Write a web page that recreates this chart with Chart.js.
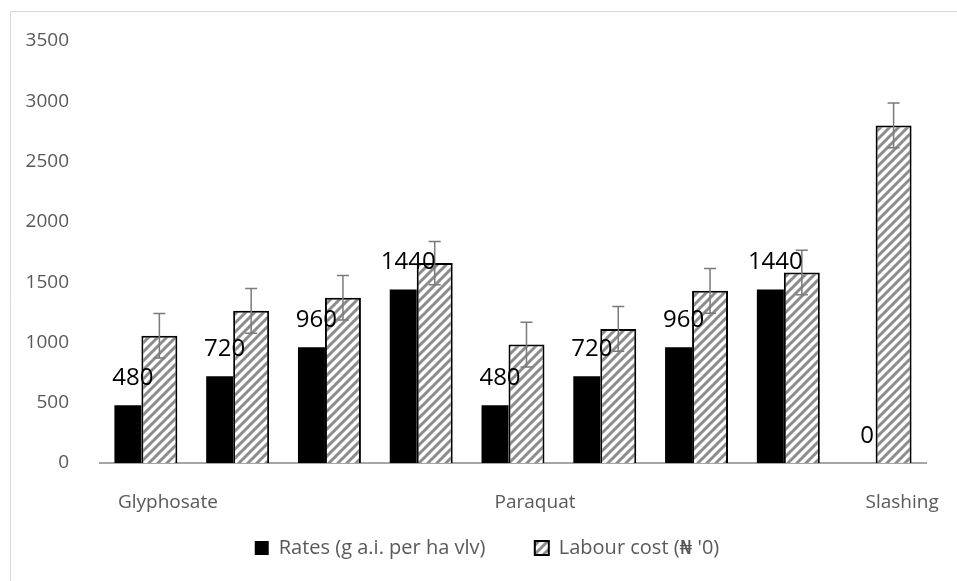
<!DOCTYPE html>
<html>
<head>
<meta charset="utf-8">
<script src="https://cdn.jsdelivr.net/npm/chart.js@4"></script>
<style>
  html, body { margin: 0; padding: 0; background: #fff; }
  #wrap { width: 957px; height: 581px; position: relative; }
</style>
</head>
<body>
<div id="wrap"><canvas id="canvas" width="957" height="581"></canvas></div>
<script>
// chart data
const categories = ['Glyphosate', '', '', '', 'Paraquat', '', '', '', 'Slashing'];
const rates = [480, 720, 960, 1440, 480, 720, 960, 1440, 0];
const labourCost = [1055, 1262, 1370, 1658, 982, 1112, 1428, 1580, 2800];
const labourErr = [185, 185, 185, 180, 185, 185, 185, 185, 185];
const yTicks = [0, 500, 1000, 1500, 2000, 2500, 3000, 3500];

const font = "'Open Sans', 'DejaVu Sans', sans-serif";

/* hatch pattern for labour cost bars */
function makeHatch() {
  const s = 9;
  const p = document.createElement('canvas');
  p.width = s; p.height = s;
  const c = p.getContext('2d');
  c.fillStyle = '#ffffff';
  c.fillRect(0, 0, s, s);
  c.strokeStyle = '#8c8c8c';
  c.lineWidth = 3;
  c.beginPath();
  c.moveTo(0, s); c.lineTo(s, 0);
  c.moveTo(-3, 3); c.lineTo(3, -3);
  c.moveTo(s - 3, s + 3); c.lineTo(s + 3, s - 3);
  c.stroke();
  return c.createPattern(p, 'repeat');
}
const hatch = makeHatch();

/* light frame round the chart */
const frame = {
  id: 'frame',
  beforeDraw(chart) {
    const ctx = chart.ctx;
    ctx.save();
    ctx.strokeStyle = '#d9d9d9';
    ctx.lineWidth = 1;
    ctx.beginPath();
    ctx.moveTo(10.5, 581);
    ctx.lineTo(10.5, 11.5);
    ctx.lineTo(957, 11.5);
    ctx.stroke();
    ctx.restore();
  }
};

/* error bars on labour cost + value labels on rates */
const extras = {
  id: 'extras',
  afterDatasetsDraw(chart) {
    const ctx = chart.ctx;
    const y = chart.scales.y;
    const metaL = chart.getDatasetMeta(1);
    ctx.save();
    ctx.strokeStyle = '#7a7a7a';
    ctx.lineWidth = 1.5;
    metaL.data.forEach(function(bar, i) {
      const top = y.getPixelForValue(labourCost[i] + labourErr[i]);
      const bot = y.getPixelForValue(labourCost[i] - labourErr[i]);
      ctx.beginPath();
      ctx.moveTo(bar.x, top); ctx.lineTo(bar.x, bot);
      ctx.moveTo(bar.x - 6, top); ctx.lineTo(bar.x + 6, top);
      ctx.moveTo(bar.x - 6, bot); ctx.lineTo(bar.x + 6, bot);
      ctx.stroke();
    });
    const metaR = chart.getDatasetMeta(0);
    ctx.fillStyle = '#000';
    ctx.font = '24px ' + font;
    ctx.textAlign = 'center';
    ctx.textBaseline = 'middle';
    metaR.data.forEach(function(bar, i) {
      ctx.fillText(String(rates[i]), bar.x + 5, bar.y - 27);
    });
    ctx.restore();
  }
};

const ctx = document.getElementById('canvas');
new Chart(ctx, {
  type: 'bar',
  data: {
    labels: categories,
    datasets: [{
      label: 'Rates (g a.i. per ha vlv)',
      data: rates,
      backgroundColor: '#000000',
      borderWidth: 0,
      categoryPercentage: 0.784,
      barPercentage: 0.75
    },
    {
      label: "Labour cost (\u20A6 '0)",
      data: labourCost,
      backgroundColor: hatch,
      borderColor: '#000000',
      borderWidth: 2,
      categoryPercentage: 0.588,
      barPercentage: 1.333
    }]
  },
  options: {
    responsive: false,
    animation: false,
    layout: { padding: { top: 41, right: 0, bottom: 13, left: 17 } },
    plugins: {
      legend: {
        position: 'bottom',
        labels: {
          boxWidth: 14,
          boxHeight: 14,
          padding: 13,
          color: '#595959',
          font: { family: font, size: 20 },
          // wider gap between the two entries
          generateLabels: function(chart) {
            const items = Chart.defaults.plugins.legend.labels.generateLabels(chart);
            items[0].text = items[0].text + '       ';
            return items;
          }
        }
      },
      tooltip: { enabled: false }
    },
    scales: {
      x: {
        grid: { display: false },
        border: { display: true, color: '#a6a6a6', width: 2 },
        ticks: {
          color: '#595959',
          font: { family: font, size: 19 },
          padding: 20,
          labelOffset: 22,
          autoSkip: false,
          maxRotation: 0
        },
        afterFit: s => { s.height = 62; }
      },
      y: {
        min: 0,
        max: 3500,
        grid: { display: false },
        border: { display: false },
        afterBuildTicks: s => { s.ticks = yTicks.map(v => ({ value: v })); },
        ticks: {
          color: '#595959',
          font: { family: font, size: 19 },
          padding: 23,
          callback: v => String(v)
        },
        afterFit: s => { s.width = 83; }
      },
      // empty spacer on the right side
      yr: {
        position: 'right',
        grid: { display: false },
        border: { display: false },
        ticks: { display: false },
        afterFit: s => { s.width = 31; }
      }
    }
  },
  plugins: [frame, extras]
});
</script>
</body>
</html>
